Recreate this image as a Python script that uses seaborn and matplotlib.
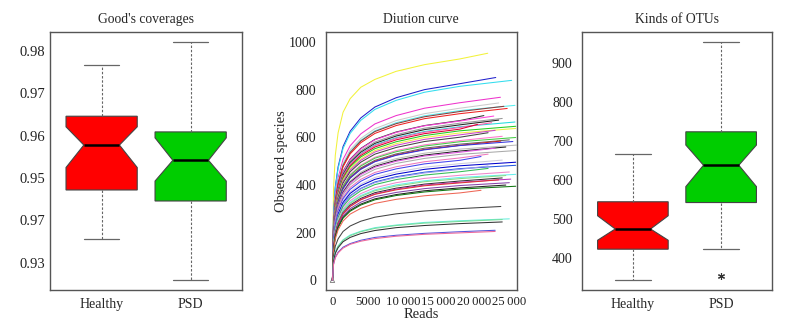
import numpy as np
import pandas as pd
import matplotlib
matplotlib.use("Agg")
import matplotlib.pyplot as plt
import seaborn as sns

sns.set_theme(style="white")
plt.rcParams['font.family'] = ['Liberation Serif', 'DejaVu Serif']

# ---------------- data ----------------
groups = ["Healthy", "PSD"]
box_colors = ["#FF0000", "#00CD00"]

# Good's coverages (five-number summaries + notch limits)
cov_whislo = [0.9357, 0.9259]
cov_q1 = [0.9472, 0.9446]
cov_med = [0.9578, 0.9542]
cov_q3 = [0.9646, 0.9609]
cov_whishi = [0.9768, 0.9821]
cov_cilo = [0.9525, 0.9493]
cov_cihi = [0.9621, 0.9595]
cov_ticks = [0.98, 0.97, 0.96, 0.95, 0.94, 0.93]
cov_ticklabels = ["0.98", "0.97", "0.96", "0.95", "0.97", "0.93"]

# Kinds of OTUs
otu_whislo = [343, 422]
otu_q1 = [422, 542]
otu_med = [474, 638]
otu_q3 = [544, 724]
otu_whishi = [666, 954]
otu_cilo = [445, 583]
otu_cihi = [508, 690]
otu_fliers = [[], [354]]
otu_ticks = [400, 500, 600, 700, 800, 900]

# Dilution (rarefaction) curves: reads sampled at these depths, then each curve's last depth
depth_points = [0, 150, 400, 800, 1500, 2500, 4000, 6000, 9000, 13000, 18000]
curve_end_reads = [21950, 23080, 25330, 23740, 23500, 25800, 24230, 24700, 21400, 22800,
                   24000, 23500, 25800, 22500, 20500, 25900, 25900, 23000, 22000, 24000,
                   25900, 25000, 23800, 25500, 26000, 24500, 23000, 25900, 22000, 21000,
                   24000, 25900, 25900, 22000, 22000, 25000, 25900, 24500, 24000, 25200,
                   23500, 25000, 24500, 25900, 21000, 23800, 25000, 24000, 24000, 23000,
                   23000]
curve_species = [
    [0, 382, 525, 620, 706, 763, 811, 844, 878, 906, 930, 954],
    [0, 273, 392, 477, 562, 626, 682, 728, 767, 801, 826, 852],
    [0, 269, 386, 470, 554, 617, 672, 718, 756, 790, 815, 840],
    [0, 246, 354, 431, 508, 565, 615, 657, 692, 723, 746, 769],
    [0, 238, 343, 417, 492, 548, 596, 637, 671, 700, 723, 745],
    [0, 235, 338, 412, 485, 540, 588, 628, 662, 691, 713, 735],
    [0, 234, 336, 409, 482, 537, 585, 625, 658, 687, 709, 731],
    [0, 231, 332, 404, 477, 531, 578, 617, 650, 679, 700, 722],
    [0, 221, 318, 388, 457, 509, 554, 592, 623, 650, 671, 692],
    [0, 221, 317, 386, 455, 507, 552, 590, 621, 649, 669, 690],
    [0, 218, 313, 381, 449, 500, 544, 581, 612, 639, 660, 680],
    [0, 215, 310, 377, 444, 495, 538, 575, 606, 633, 653, 673],
    [0, 213, 306, 372, 439, 489, 532, 569, 599, 625, 645, 665],
    [0, 212, 305, 371, 437, 487, 530, 566, 596, 622, 642, 662],
    [0, 210, 301, 367, 432, 481, 524, 560, 590, 616, 635, 655],
    [0, 207, 298, 362, 427, 476, 518, 553, 582, 608, 628, 647],
    [0, 204, 293, 357, 421, 469, 510, 545, 574, 600, 619, 638],
    [0, 202, 290, 353, 416, 463, 504, 539, 567, 592, 611, 630],
    [0, 198, 285, 347, 409, 456, 496, 530, 558, 583, 601, 620],
    [0, 194, 278, 339, 399, 445, 484, 517, 545, 569, 587, 605],
    [0, 192, 276, 336, 396, 441, 480, 513, 540, 564, 582, 600],
    [0, 189, 271, 330, 389, 434, 472, 504, 531, 555, 572, 590],
    [0, 187, 269, 328, 386, 430, 468, 500, 527, 550, 567, 585],
    [0, 187, 268, 326, 385, 429, 466, 498, 525, 548, 566, 583],
    [0, 182, 261, 318, 375, 417, 454, 486, 511, 534, 551, 568],
    [0, 179, 258, 314, 370, 412, 448, 479, 504, 526, 543, 560],
    [0, 178, 255, 311, 366, 408, 444, 475, 500, 522, 538, 555],
    [0, 174, 251, 305, 360, 401, 436, 466, 491, 512, 529, 545],
    [0, 170, 244, 297, 350, 390, 424, 453, 477, 498, 514, 530],
    [0, 166, 239, 291, 343, 382, 416, 445, 468, 489, 504, 520],
    [0, 162, 232, 283, 333, 371, 404, 432, 455, 475, 490, 505],
    [0, 159, 228, 278, 327, 365, 397, 424, 446, 466, 481, 496],
    [0, 155, 222, 270, 319, 355, 386, 413, 435, 454, 469, 483],
    [0, 154, 221, 269, 317, 353, 384, 410, 432, 451, 466, 480],
    [0, 150, 216, 263, 310, 345, 376, 402, 423, 442, 456, 470],
    [0, 146, 209, 255, 300, 334, 364, 389, 410, 428, 441, 455],
    [0, 142, 205, 249, 294, 327, 356, 380, 401, 418, 432, 445],
    [0, 141, 202, 246, 290, 323, 352, 376, 396, 414, 427, 440],
    [0, 138, 198, 241, 284, 316, 344, 368, 387, 404, 417, 430],
    [0, 136, 196, 238, 281, 312, 340, 363, 383, 400, 412, 425],
    [0, 135, 194, 236, 279, 310, 338, 361, 380, 397, 409, 422],
    [0, 131, 189, 230, 271, 301, 328, 351, 369, 385, 398, 410],
    [0, 128, 184, 224, 264, 294, 320, 342, 360, 376, 388, 400],
    [0, 126, 182, 221, 261, 290, 316, 338, 356, 371, 383, 395],
    [0, 121, 174, 212, 249, 278, 302, 323, 340, 355, 367, 378],
    [0, 99, 143, 174, 205, 228, 248, 265, 279, 291, 301, 310],
    [0, 83, 119, 144, 170, 190, 206, 221, 232, 243, 250, 258],
    [0, 82, 117, 143, 168, 187, 204, 218, 230, 240, 247, 255],
    [0, 78, 113, 137, 162, 180, 196, 209, 221, 230, 238, 245],
    [0, 67, 97, 118, 139, 154, 168, 180, 189, 197, 204, 210],
    [0, 66, 94, 115, 135, 151, 164, 175, 185, 193, 199, 205],
]
curve_colors = ["#F2F23A", "#2020CC", "#33DDEE", "#EE33CC", "#CCCCCC", "#55EEEE", "#8B3A3A",
                "#EE2222", "#333333", "#FF44DD", "#999999", "#222222", "#22DDDD", "#FF55AA",
                "#DD0033", "#22CC22", "#EEEE44", "#CC44CC", "#444444", "#FF77CC", "#44CC44",
                "#666666", "#CC2222", "#3333DD", "#BBBBBB", "#222222", "#DD55DD", "#AAAAAA",
                "#EE77BB", "#4444EE", "#CCCCDD", "#0000CC", "#2255DD", "#9999EE", "#33BB55",
                "#EE88CC", "#66EEEE", "#88DD88", "#333333", "#BB33BB", "#DD3333", "#8844AA",
                "#222222", "#117711", "#EE6655", "#444444", "#66EEDD", "#77DD99", "#333333",
                "#5555DD", "#EE6699"]
x_ticks = [0, 5000, 10000, 15000, 20000, 25000]
x_ticklabels = ["0", "5000", "10\u2009000", "15\u2009000", "20\u2009000", "25\u2009000"]
y_ticks = [0, 200, 400, 600, 800, 1000]

# ---------------- figure ----------------
fig = plt.figure(figsize=(7.91, 3.32), dpi=100)
ax1 = fig.add_axes([0.0632, 0.1265, 0.2431, 0.7762])
ax2 = fig.add_axes([0.4118, 0.1265, 0.2415, 0.7762])
ax3 = fig.add_axes([0.7354, 0.1265, 0.2410, 0.7762])

spine_col = "#555555"
title_fs = 9.8


def draw_box(ax, whislo, q1, med, q3, whishi, cilo, cihi, fliers):
    stats = []
    for i in range(len(groups)):
        stats.append(dict(label=groups[i], whislo=whislo[i], q1=q1[i], med=med[i],
                          q3=q3[i], whishi=whishi[i], cilo=cilo[i], cihi=cihi[i],
                          fliers=fliers[i]))
    res = ax.bxp(stats, positions=[1, 2], widths=0.8, shownotches=True, patch_artist=True,
                 showfliers=True, manage_ticks=False,
                 boxprops=dict(edgecolor="#444444", linewidth=0.8),
                 medianprops=dict(color="black", linewidth=1.8),
                 whiskerprops=dict(color="#666666", linewidth=0.8, linestyle=(0, (2.2, 1.6))),
                 capprops=dict(color="#666666", linewidth=0.9),
                 flierprops=dict(marker=(6, 2, 0), markersize=5, markeredgecolor="#333333",
                                 markeredgewidth=0.8, linestyle="none"))
    for patch, c in zip(res["boxes"], box_colors):
        patch.set_facecolor(c)
    ax.set_xlim(0.42, 2.58)
    ax.set_xticks([1, 2])
    ax.set_xticklabels(groups)
    ax.tick_params(axis="x", length=0, pad=6, labelsize=10)


def style_axes(ax, ylen=3, ypad=4, yfs=10.5):
    for s in ax.spines.values():
        s.set_color(spine_col)
        s.set_linewidth(1.0)
    ax.tick_params(axis="y", labelsize=yfs, labelcolor="#222222", length=ylen,
                   width=0.8, direction="out", pad=ypad, color=spine_col)


# Panel 1
draw_box(ax1, cov_whislo, cov_q1, cov_med, cov_q3, cov_whishi, cov_cilo, cov_cihi, [[], []])
ax1.set_ylim(0.9236, 0.9844)
ax1.set_yticks(cov_ticks)
ax1.set_yticklabels(cov_ticklabels)
ax1.set_title("Good's coverages", fontsize=title_fs, pad=7)
style_axes(ax1, ylen=2, ypad=1.5)

# Panel 2
rows = []
for i, (ends, vals) in enumerate(zip(curve_end_reads, curve_species)):
    reads = depth_points + [ends]
    for r, v in zip(reads, vals):
        rows.append((i, r, v))
df = pd.DataFrame(rows, columns=["curve", "Reads", "Observed species"])
sns.lineplot(data=df, x="Reads", y="Observed species", hue="curve",
             palette=curve_colors, legend=False, linewidth=0.75, estimator=None,
             ax=ax2)
sns.scatterplot(x=[0], y=[0], marker="^", s=10, facecolor="none",
                edgecolor="#777777", linewidth=0.6, ax=ax2)
ax2.set_xlim(-950, 26050)
ax2.set_ylim(-41, 1042)
ax2.set_xticks(x_ticks)
ax2.set_xticklabels(x_ticklabels)
ax2.set_yticks(y_ticks)
ax2.set_xlabel("Reads", fontsize=10.5, labelpad=0)
ax2.set_ylabel("Observed species", fontsize=10.5, labelpad=0)
ax2.set_title("Diution curve", fontsize=title_fs, pad=7)
style_axes(ax2, ylen=3, ypad=4, yfs=10)
ax2.tick_params(axis="x", labelsize=9.2, labelcolor="#222222", length=3, width=0.8,
                direction="out", pad=1.5, color=spine_col)

# Panel 3
draw_box(ax3, otu_whislo, otu_q1, otu_med, otu_q3, otu_whishi, otu_cilo, otu_cihi, otu_fliers)
ax3.set_ylim(317, 980)
ax3.set_yticks(otu_ticks)
ax3.set_title("Kinds of OTUs", fontsize=title_fs, pad=7)
style_axes(ax3, ylen=3, ypad=3.5, yfs=10)

fig.savefig("out.png", dpi=100)
